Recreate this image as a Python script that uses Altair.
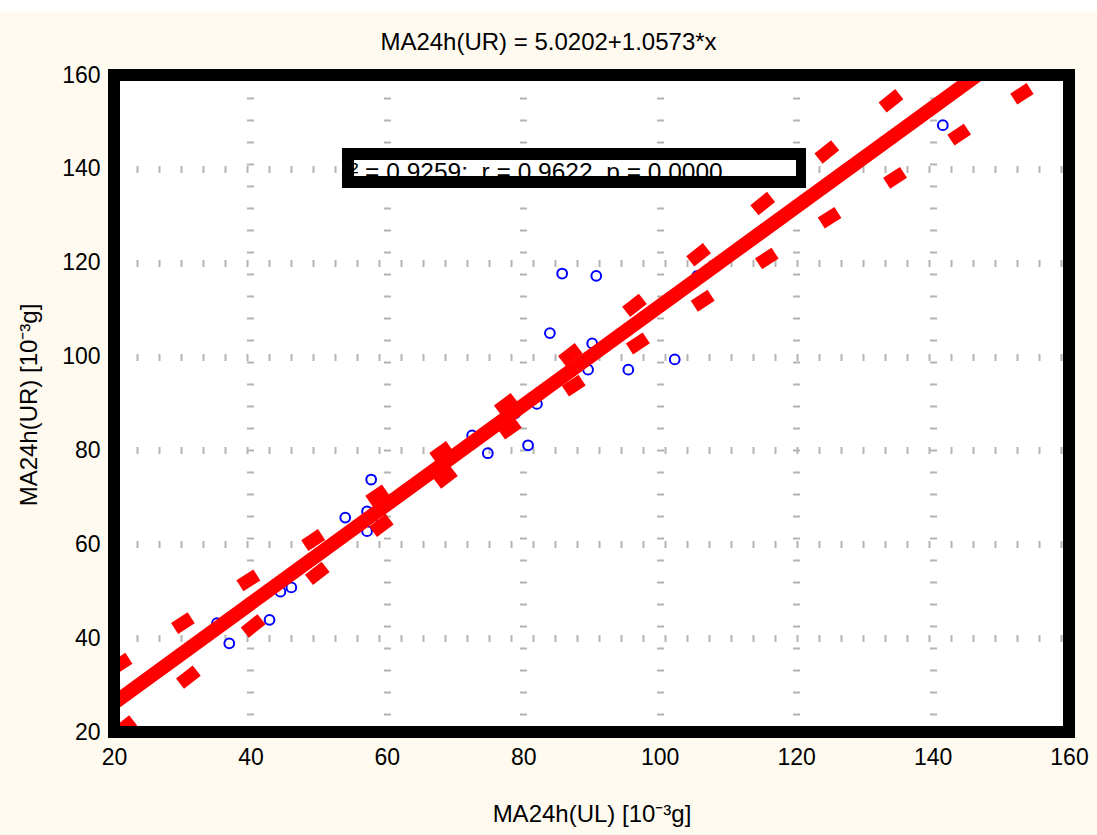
import altair as alt
import pandas as pd

# ---- data ----
ul = [35.1, 36.9, 42.8, 44.4, 46.0, 53.9, 57.1, 57.1, 57.7, 59.0, 72.5, 74.8, 78.8,
      80.7, 82.0, 83.9, 85.7, 89.5, 90.1, 90.7, 95.4, 102.2, 105.5, 141.5]
ur = [43.2, 38.9, 43.9, 49.9, 50.8, 65.7, 62.8, 67.0, 73.8, 66.0, 83.2, 79.4, 87.9,
      81.1, 89.9, 105.0, 117.7, 97.2, 102.8, 117.2, 97.2, 99.4, 117.2, 149.3]

# fitted line MA24h(UR) = 5.0202 + 1.0573*x, end points
reg_x = [20, 148]
reg_y = [26.17, 161.5]

# 95% confidence band, dash centres
upper_x = [21.0, 30.1, 39.7, 49.2, 58.6, 68.0, 77.5, 86.9, 96.3, 105.7, 115.1, 124.5, 133.9]
upper_y = [34.6, 43.2, 52.3, 60.9, 70.4, 79.6, 89.8, 100.4, 110.9, 121.7, 132.6, 143.6, 154.5]
lower_x = [21.6, 30.9, 40.4, 49.8, 59.2, 68.6, 78.0, 87.4, 96.8, 106.3, 115.7, 124.9, 134.5, 143.9, 153.1]
lower_y = [21.1, 31.7, 42.6, 53.8, 64.0, 74.3, 84.7, 93.8, 102.8, 111.9, 120.9, 129.6, 138.1, 147.3, 156.0]

ticks = [20, 40, 60, 80, 100, 120, 140, 160]

title_text = "MA24h(UR) = 5.0202+1.0573*x"
x_title = "MA24h(UL) [10\u207b\u00b3g]"
y_title = "MA24h(UR) [10\u207b\u00b3g]"
stats_text = "r\u00b2 = 0.9259; \u00a0r = 0.9622, p = 0.0000"

# ---- layout ----
W, H = 955, 657
FONT = "Liberation Sans, Arial, sans-serif"
CREAM = "#FFFAF0"
DASH_FRAC = 0.13   # half dash length as a fraction of the dash spacing

xs = alt.Scale(domain=[20, 160], nice=False, zero=False)
ys = alt.Scale(domain=[20, 160], nice=False, zero=False)
axis_kw = dict(values=ticks, title=None, domain=False, ticks=False, labelFontSize=23,
               labelFont=FONT, labelColor="black", labelPadding=14, grid=True,
               gridColor="#B4B4B4", gridWidth=7, gridDash=[2, 20], labelFlush=False)
xaxis = alt.Axis(**axis_kw)
yaxis = alt.Axis(**axis_kw)


def dash_table(cx, cy):
    rows = []
    n = len(cx)
    for i in range(n):
        a, b = max(i - 1, 0), min(i + 1, n - 1)
        dx = (cx[b] - cx[a]) / (b - a)
        dy = (cy[b] - cy[a]) / (b - a)
        rows.append({"x": cx[i] - DASH_FRAC * dx, "y": cy[i] - DASH_FRAC * dy,
                     "x2": cx[i] + DASH_FRAC * dx, "y2": cy[i] + DASH_FRAC * dy})
    return pd.DataFrame(rows)


pts = pd.DataFrame({"ul": ul, "ur": ur})
reg = pd.DataFrame({"x": reg_x, "y": reg_y})
band = pd.concat([dash_table(upper_x, upper_y), dash_table(lower_x, lower_y)], ignore_index=True)
one = pd.DataFrame({"a": [0]})


def X(f):
    return alt.X(f, type="quantitative", scale=xs, axis=xaxis)


def Y(f):
    return alt.Y(f, type="quantitative", scale=ys, axis=yaxis)


def rect(x1, x2, y1, y2, color):
    return alt.Chart(one).mark_rect(color=color, clip=False).encode(
        x=alt.value(x1), x2=alt.value(x2), y=alt.value(y1), y2=alt.value(y2))


top_strip = rect(-114, 1000, -75, -63, "white")

points = alt.Chart(pts).mark_point(shape="circle", filled=False, color="#0000FF",
                                   strokeWidth=2, size=95, opacity=1).encode(
    x=X("ul"), y=Y("ur"))

bands = alt.Chart(band).mark_rule(color="#FF0000", strokeWidth=13, strokeCap="butt",
                                  clip=True).encode(
    x=X("x"), y=Y("y"), x2="x2", y2="y2")

regline = alt.Chart(reg).mark_line(color="#FF0000", strokeWidth=14, strokeCap="butt",
                                   clip=True).encode(x=X("x"), y=Y("y"))

box_outer = rect(228, 692, 73, 113, "black")
box_inner = rect(240, 682, 85, 101, "white")
box_text = alt.Chart(one).mark_text(text=stats_text, font=FONT, fontSize=24.5, align="left",
                                    baseline="alphabetic", color="black").encode(
    x=alt.value(228), y=alt.value(105))
strip_l = rect(228, 240, 73, 113, "black")
strip_r = rect(682, 692, 73, 113, "black")
strip_t = rect(228, 692, 73, 85, "black")
strip_b = rect(228, 692, 101, 113, "black")

frame = alt.Chart(one).mark_rect(filled=False, stroke="black", strokeWidth=12,
                                 strokeJoin="miter", clip=False).encode(
    x=alt.value(0), x2=alt.value(W), y=alt.value(0), y2=alt.value(H))

title = alt.Chart(one).mark_text(text=title_text, font=FONT, fontSize=24, align="center",
                                 baseline="middle", color="black").encode(
    x=alt.value(434.5), y=alt.value(-32))
xt = alt.Chart(one).mark_text(text=x_title, font=FONT, fontSize=24, align="center",
                              baseline="middle", color="black").encode(
    x=alt.value(478), y=alt.value(740))
yt = alt.Chart(one).mark_text(text=y_title, font=FONT, fontSize=24, align="center",
                              baseline="middle", color="black", angle=270).encode(
    x=alt.value(-84), y=alt.value(330))

chart = alt.layer(
    top_strip, points, bands, regline,
    box_outer, box_inner, box_text, strip_l, strip_r, strip_t, strip_b,
    frame, title, xt, yt
).properties(
    width=W, height=H,
    autosize=alt.AutoSizeParams(type="none"),
    padding={"left": 114, "top": 75, "right": 28, "bottom": 103},
    background=CREAM,
).configure_view(fill="white", stroke=None)

chart.save("out.html", embed_options={"renderer": "svg", "actions": False})
